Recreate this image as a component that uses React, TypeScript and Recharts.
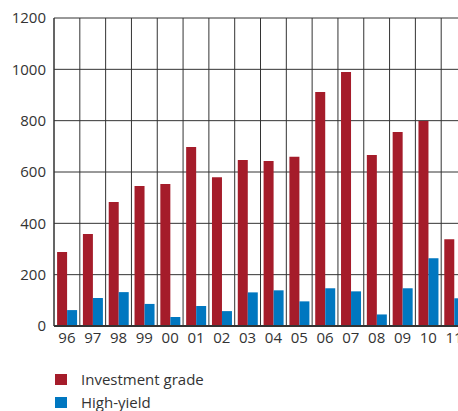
import React from 'react';
import { BarChart, Bar, XAxis, YAxis, CartesianGrid } from 'recharts';

const years = ['96', '97', '98', '99', '00', '01', '02', '03', '04', '05', '06', '07', '08', '09', '10', '11'];
const investmentGrade = [288, 358, 483, 545, 553, 697, 580, 647, 643, 659, 912, 990, 666, 756, 799, 338];
const highYield = [62, 109, 132, 86, 35, 78, 58, 131, 139, 96, 147, 135, 45, 147, 264, 108];
const yTicks = [0, 200, 400, 600, 800, 1000, 1200];

const seriesNames = ['Investment grade', 'High-yield'];
const seriesColors = ['#A51C2A', '#0077C0'];

const data = years.map((y, i) => ({ year: y, ig: investmentGrade[i], hy: highYield[i] }));

const FONT = '"Open Sans", sans-serif';
const tickStyle = { fontSize: 15, fill: '#333', fontFamily: FONT };

export default function App() {
  return (
    <div style={{ position: 'absolute', left: 0, top: 0, width: 458, height: 411, overflow: 'hidden', background: '#fff' }}>
      <BarChart
        width={470}
        height={350}
        data={data}
        margin={{ top: 18, right: 3, bottom: 0, left: 0 }}
        barCategoryGap="12%"
        barGap={0}
      >
        <CartesianGrid
          stroke="#333"
          strokeWidth={1}
          verticalCoordinatesGenerator={({ offset }: any) =>
            Array.from({ length: years.length + 1 }, (_, i) => offset.left + (i * offset.width) / years.length)
          }
        />
        <XAxis
          dataKey="year"
          height={24}
          tickLine={false}
          tickSize={4}
          tickMargin={2}
          axisLine={{ stroke: '#333', strokeWidth: 2 }}
          tick={tickStyle}
          interval={0}
        />
        <YAxis
          width={54}
          domain={[0, 1200]}
          ticks={yTicks}
          tickLine={false}
          tickSize={6}
          tickMargin={2}
          axisLine={{ stroke: '#333' }}
          tick={tickStyle}
          interval={0}
        />
        <Bar dataKey="ig" name={seriesNames[0]} fill={seriesColors[0]} isAnimationActive={false} />
        <Bar dataKey="hy" name={seriesNames[1]} fill={seriesColors[1]} isAnimationActive={false} />
      </BarChart>
      <div style={{ position: 'absolute', left: 55, top: 368, fontFamily: FONT, fontSize: 15, color: '#333' }}>
        {seriesNames.map((n, i) => (
          <div key={n} style={{ display: 'flex', alignItems: 'center', height: 23 }}>
            <span style={{ display: 'inline-block', width: 12, height: 11, background: seriesColors[i], marginRight: 14 }} />
            <span style={{ lineHeight: '23px' }}>{n}</span>
          </div>
        ))}
      </div>
    </div>
  );
}
